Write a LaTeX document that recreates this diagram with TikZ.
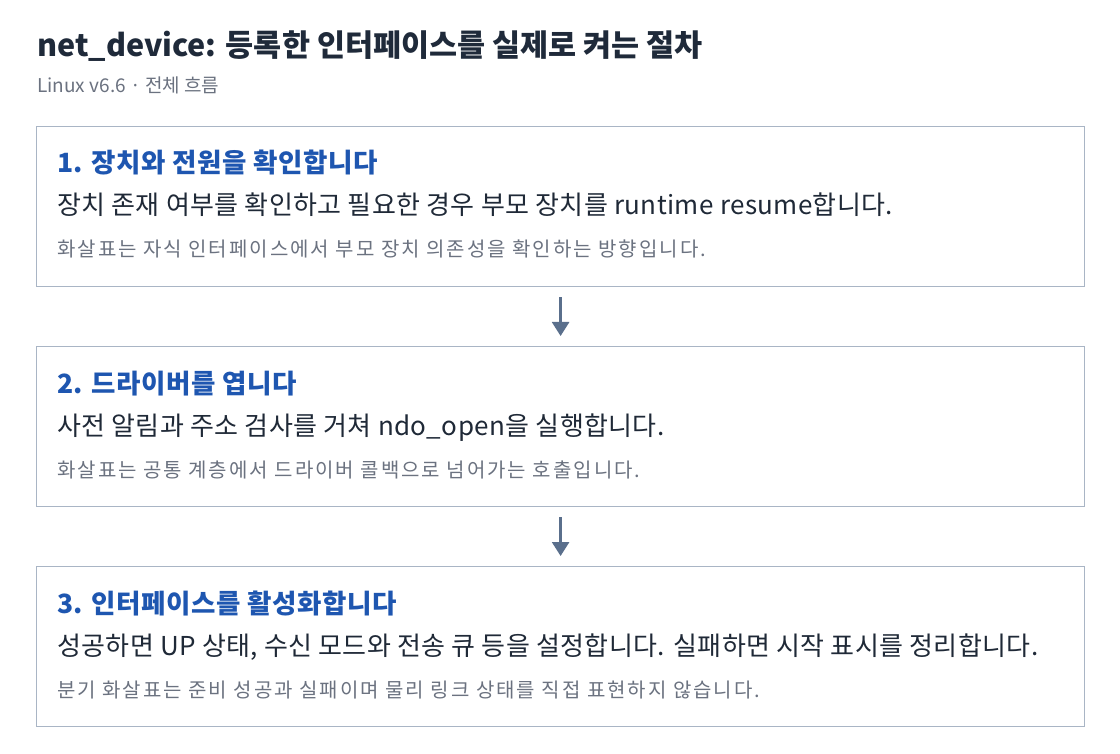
\documentclass[tikz,border=0pt]{standalone}
\usepackage{fontspec}
\setmainfont{Noto Sans CJK KR}
\usepackage{xcolor}
\usetikzlibrary{arrows.meta}
\definecolor{TitleInk}{HTML}{1F2A3A}
\definecolor{SubInk}{HTML}{6B7280}
\definecolor{HeadBlue}{HTML}{1E56B0}
\definecolor{BodyInk}{HTML}{1F2937}
\definecolor{NoteInk}{HTML}{6B7280}
\definecolor{FrameGray}{HTML}{A9B5C5}
\definecolor{ArrowSlate}{HTML}{5A6F8C}

\begin{document}
\begin{tikzpicture}[x=1pt, y=-1pt,
    stepbox/.style={draw=FrameGray, line width=1.2pt, fill=white, minimum width=1048pt, minimum height=160pt, inner sep=0pt, anchor=north west},
    head/.style={anchor=base west, inner sep=0pt, text=HeadBlue, font=\fontsize{26.5}{30}\selectfont\bfseries\addfontfeatures{LetterSpace=2}},
    body/.style={anchor=base west, inner sep=0pt, text=BodyInk, font=\fontsize{26}{30}\selectfont\addfontfeatures{LetterSpace=1.5}},
    note/.style={anchor=base west, inner sep=0pt, text=NoteInk, font=\fontsize{20}{24}\selectfont\addfontfeatures{LetterSpace=10}},
    flow/.style={ArrowSlate, line width=2.6pt, -{Triangle[width=17pt,length=14pt]}, shorten <=10pt, shorten >=10pt}]
  \useasboundingbox (0,0) rectangle (1120,754);
  \fill[white] (0,0) rectangle (1120,754);

  \node[anchor=base west, inner sep=0pt, text=TitleInk, font=\fontsize{30.5}{36}\selectfont\bfseries] (title) at (37,57) {net\_device: 등록한 인터페이스를 실제로 켜는 절차};
  \node[anchor=base west, inner sep=0pt, text=SubInk, font=\fontsize{19}{24}\selectfont] (sub) at (37,93) {Linux v6.6 · 전체 흐름};

  \node[stepbox] (s1) at (36,126) {};
  \node[stepbox] (s2) at (36,346) {};
  \node[stepbox] (s3) at (36,566) {};

  \node[head] (h1) at (57,173) {1. 장치와 전원을 확인합니다};
  \node[body] (b1) at (57,215) {장치 존재 여부를 확인하고 필요한 경우 부모 장치를 runtime resume합니다.};
  \node[note] (n1) at (57,257) {화살표는 자식 인터페이스에서 부모 장치 의존성을 확인하는 방향입니다.};

  \node[head] (h2) at (57,393) {2. 드라이버를 엽니다};
  \node[body] (b2) at (57,435) {사전 알림과 주소 검사를 거쳐 ndo\_open을 실행합니다.};
  \node[note] (n2) at (57,477) {화살표는 공통 계층에서 드라이버 콜백으로 넘어가는 호출입니다.};

  \node[head] (h3) at (57,613) {3. 인터페이스를 활성화합니다};
  \node[body] (b3) at (57,655) {성공하면 UP 상태, 수신 모드와 전송 큐 등을 설정합니다. 실패하면 시작 표시를 정리합니다.};
  \node[note] (n3) at (57,697) {분기 화살표는 준비 성공과 실패이며 물리 링크 상태를 직접 표현하지 않습니다.};

  \draw[flow] (s1.south) -- (s2.north);
  \draw[flow] (s2.south) -- (s3.north);
\end{tikzpicture}
\end{document}
